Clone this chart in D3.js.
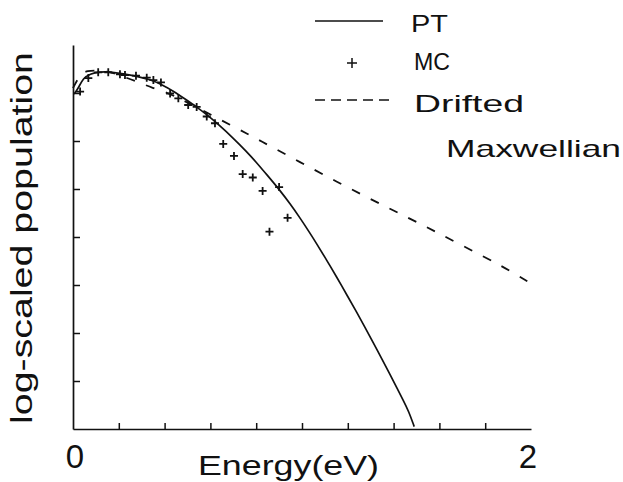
<!DOCTYPE html>
<html>
<head>
<meta charset="utf-8">
<script src="https://cdn.jsdelivr.net/npm/d3@7"></script>
<style>
  html, body { margin: 0; padding: 0; background: #fff; }
  svg { display: block; }
  text { font-family: "Liberation Sans", Arial, Helvetica, sans-serif; fill: #111; }
</style>
</head>
<body>
<svg id="chart" width="623" height="482"></svg>
<script>
// Energy (eV) and log-scaled population (decades above the x axis).
const ptEnergy = [0.005, 0.023, 0.045, 0.074, 0.118, 0.16, 0.22, 0.278, 0.336, 0.387, 0.438, 0.497, 0.54, 0.584, 0.634, 0.70, 0.758, 0.80, 0.846, 0.904, 0.95, 0.991, 1.035, 1.064, 1.11, 1.152, 1.20, 1.239, 1.275, 1.311, 1.35, 1.384, 1.415, 1.442, 1.466, 1.49];
const ptValue = [6.98, 7.10, 7.31, 7.40, 7.44, 7.44, 7.40, 7.35, 7.28, 7.18, 7.04, 6.85, 6.71, 6.55, 6.35, 6.06, 5.78, 5.56, 5.30, 4.97, 4.68, 4.40, 4.08, 3.86, 3.50, 3.16, 2.76, 2.43, 2.12, 1.80, 1.45, 1.14, 0.85, 0.60, 0.37, 0.05];

const mcEnergy = [0.031, 0.067, 0.110, 0.154, 0.205, 0.227, 0.275, 0.322, 0.351, 0.384, 0.424, 0.460, 0.503, 0.540, 0.584, 0.620, 0.656, 0.703, 0.741, 0.785, 0.828, 0.858, 0.900, 0.937];
const mcValue = [7.03, 7.31, 7.43, 7.43, 7.39, 7.375, 7.36, 7.32, 7.27, 7.22, 6.99, 6.89, 6.75, 6.71, 6.51, 6.37, 5.94, 5.69, 5.31, 5.24, 4.96, 4.11, 5.04, 4.40];

const dmEnergy = [0.0, 0.03, 0.06, 0.12, 0.17, 0.227, 0.293, 0.345, 0.415, 0.463, 0.52, 0.69, 0.82, 0.987, 1.18, 1.37, 1.54, 1.70, 1.88, 2.0];
const dmValue = [7.1, 7.38, 7.47, 7.47, 7.43, 7.33, 7.21, 7.11, 7.0, 6.89, 6.75, 6.33, 6.0, 5.57, 5.08, 4.62, 4.22, 3.82, 3.38, 3.03];

const xTicks = [0.2, 0.4, 0.6, 0.8, 1.0, 1.2, 1.4, 1.6, 1.8];
const xLabels = [0, 2];
const yTicks = [1, 2, 3, 4, 5, 6, 7];

const xTitle = 'Energy(eV)';
const yTitle = 'log-scaled population';
const legendNames = ['PT', 'MC', 'Drifted', 'Maxwellian'];

const svg = d3.select('#chart');
const ink = '#111';

const x = d3.scaleLinear().domain([0, 2]).range([73, 531]);
const y = d3.scaleLinear().domain([0, 8]).range([429, 45]);

// axes: ticks point inward, no numbers on y
const xAxis = svg.append('g')
  .attr('transform', `translate(0,${y(0)})`)
  .call(d3.axisBottom(x).tickValues(xTicks).tickSizeInner(-6).tickSizeOuter(0).tickFormat(''));
const yAxis = svg.append('g')
  .attr('transform', `translate(${x(0)},0)`)
  .call(d3.axisLeft(y).tickValues(yTicks).tickSizeInner(-7).tickSizeOuter(0).tickFormat(''));
[xAxis, yAxis].forEach((a) => {
  a.select('.domain').attr('stroke', ink).attr('stroke-width', 1.7);
  a.selectAll('.tick line').attr('stroke', ink).attr('stroke-width', 1.5);
});

svg.selectAll('text.xlab')
  .data(xLabels)
  .join('text')
  .attr('class', 'xlab')
  .attr('x', (d) => x(d) + (d === 0 ? 2 : -3))
  .attr('y', 468)
  .attr('text-anchor', 'middle')
  .attr('font-size', 33)
  .text((d) => d);

svg.append('text')
  .attr('x', 198).attr('y', 475)
  .attr('font-size', 28)
  .attr('textLength', 181)
  .attr('lengthAdjust', 'spacingAndGlyphs')
  .text(xTitle);

svg.append('text')
  .attr('transform', 'translate(32,238) rotate(-90)')
  .attr('text-anchor', 'middle')
  .attr('font-size', 30)
  .attr('textLength', 372)
  .attr('lengthAdjust', 'spacingAndGlyphs')
  .text(yTitle);

// curves
const line = d3.line().x((d) => x(d[0])).y((d) => y(d[1])).curve(d3.curveBasis);
const pt = d3.zip(ptEnergy, ptValue);
const dm = d3.zip(dmEnergy, dmValue);
const mc = d3.zip(mcEnergy, mcValue);

svg.append('path')
  .datum(dm)
  .attr('d', line)
  .attr('fill', 'none')
  .attr('stroke', ink)
  .attr('stroke-width', 1.8)
  .attr('stroke-dasharray', '9,12');

svg.append('path')
  .datum(pt)
  .attr('d', line)
  .attr('fill', 'none')
  .attr('stroke', ink)
  .attr('stroke-width', 1.7);

const plus = 'M-4,0H4M0,-4V4';
svg.selectAll('path.mc')
  .data(mc)
  .join('path')
  .attr('class', 'mc')
  .attr('d', plus)
  .attr('transform', (d) => `translate(${x(d[0])},${y(d[1])})`)
  .attr('stroke', ink)
  .attr('stroke-width', 1.8)
  .attr('fill', 'none');

// legend
const lg = svg.append('g');
lg.append('line').attr('x1', 315).attr('x2', 383).attr('y1', 21).attr('y2', 21)
  .attr('stroke', ink).attr('stroke-width', 1.7);
lg.append('path').attr('d', 'M-5,0H5M0,-5V5').attr('transform', 'translate(352,63)')
  .attr('stroke', ink).attr('stroke-width', 1.5);
lg.append('line').attr('x1', 315).attr('x2', 389).attr('y1', 100).attr('y2', 100)
  .attr('stroke', ink).attr('stroke-width', 1.7).attr('stroke-dasharray', '10,6');

const legendText = [
  { x: 411, y: 32, w: 37 },
  { x: 414, y: 70, w: 36 },
  { x: 414, y: 112, w: 110 },
  { x: 446, y: 157, w: 175 }
];
lg.selectAll('text')
  .data(legendNames)
  .join('text')
  .attr('x', (d, i) => legendText[i].x)
  .attr('y', (d, i) => legendText[i].y)
  .attr('font-size', 24)
  .attr('textLength', (d, i) => legendText[i].w)
  .attr('lengthAdjust', 'spacingAndGlyphs')
  .text((d) => d);
</script>
</body>
</html>
